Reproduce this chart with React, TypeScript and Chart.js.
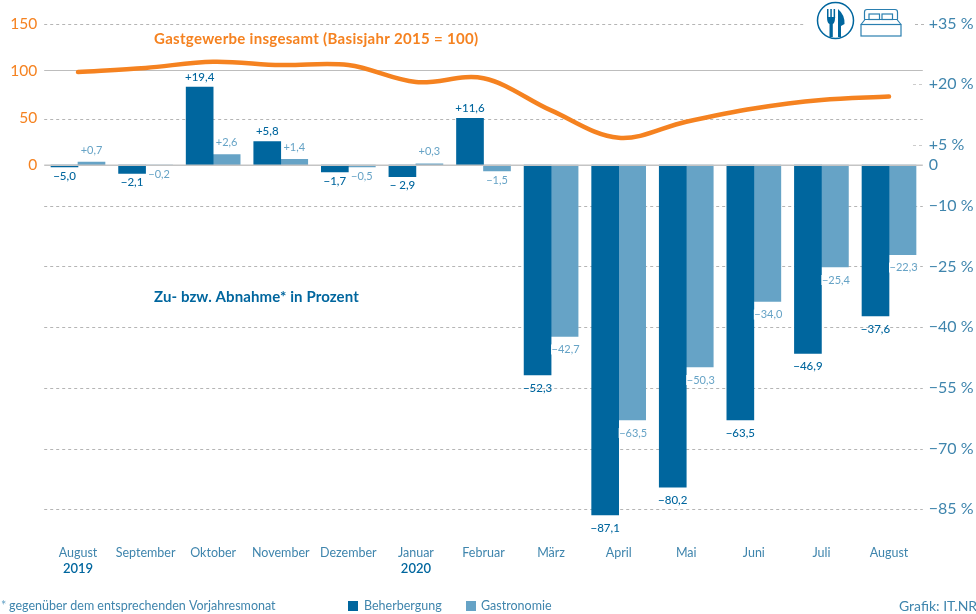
import React, { useEffect, useRef } from "react";
import { Chart, registerables } from "chart.js";

Chart.register(...registerables);

const months = ["August","September","Oktober","November","Dezember","Januar","Februar","März","April","Mai","Juni","Juli","August"];
const years: [number, string][] = [[0, "2019"], [5, "2020"]];
const lodging = [-0.5,-2.1,19.4,5.8,-1.7,-2.9,11.6,-52.3,-87.1,-80.2,-63.5,-46.9,-37.6];
const gastro = [0.7,-0.2,2.6,1.4,-0.5,0.3,-1.5,-42.7,-63.5,-50.3,-34.0,-25.4,-22.3];
const lodgingLabels = ["−5,0","−2,1","+19,4","+5,8","−1,7","− 2,9","+11,6","−52,3","−87,1","−80,2","−63,5","−46,9","−37,6"];
const gastroLabels = ["+0,7","−0,2","+2,6","+1,4","−0,5","+0,3","−1,5","−42,7","−63,5","−50,3","−34,0","−25,4","−22,3"];
const indexLine = [98.6,103,109.5,106,106,88,92,58,29,46,60,69,72.6];
const indexTicks = [0, 50, 100, 150];
const percentTicks = [35, 20, 5, 0, -10, -25, -40, -55, -70, -85];

const DARK = "#00669e";
const LIGHT = "#66a3c6";
const ORANGE = "#f58220";
const TEXT = "#3f85ad";
const FONT = "Lato, 'Open Sans', sans-serif";

const fmtPercent = (v: number) => (v === 0 ? "0" : (v > 0 ? "+" : "−") + Math.abs(v) + " %");

function drawIcons(ctx: CanvasRenderingContext2D) {
  ctx.save();
  ctx.strokeStyle = DARK;
  ctx.fillStyle = DARK;
  ctx.lineWidth = 1.5;
  ctx.beginPath();
  ctx.arc(835.5, 20.5, 18, 0, Math.PI * 2);
  ctx.stroke();
  // fork
  ctx.fillRect(827, 9, 1.5, 9);
  ctx.fillRect(830.3, 9, 1.5, 9);
  ctx.fillRect(833.6, 9, 1.5, 9);
  ctx.beginPath();
  ctx.moveTo(827, 17);
  ctx.lineTo(835.1, 17);
  ctx.quadraticCurveTo(835, 23, 832.8, 24);
  ctx.lineTo(832.8, 37);
  ctx.lineTo(829.5, 37);
  ctx.lineTo(829.5, 24);
  ctx.quadraticCurveTo(827, 23, 827, 17);
  ctx.fill();
  // knife
  ctx.beginPath();
  ctx.moveTo(838, 9);
  ctx.quadraticCurveTo(845, 15, 844.5, 24);
  ctx.lineTo(841, 26);
  ctx.lineTo(841, 37);
  ctx.lineTo(838, 37);
  ctx.closePath();
  ctx.fill();
  // bed
  ctx.strokeStyle = "#2a7fb0";
  ctx.lineWidth = 1.2;
  ctx.strokeRect(861, 24.5, 40, 11.5);
  ctx.beginPath();
  ctx.moveTo(861, 24.5);
  ctx.lineTo(865, 19.5);
  ctx.lineTo(897, 19.5);
  ctx.lineTo(901, 24.5);
  ctx.moveTo(864.5, 19.5);
  ctx.lineTo(864.5, 12);
  ctx.quadraticCurveTo(864.5, 9.5, 867, 9.5);
  ctx.lineTo(895, 9.5);
  ctx.quadraticCurveTo(897.5, 9.5, 897.5, 12);
  ctx.lineTo(897.5, 19.5);
  ctx.stroke();
  ctx.strokeRect(869, 14, 10.5, 5.5);
  ctx.strokeRect(882, 14, 10.5, 5.5);
  ctx.restore();
}

const overlayPlugin = {
  id: "overlay",
  beforeDatasetsDraw(chart: any) {
    const { ctx, scales } = chart;
    const { left, right } = chart.chartArea;
    const p = scales.percent;
    const ix = scales.index;
    ctx.save();
    ctx.lineWidth = 1;
    const hline = (y: number, x0: number, x1: number, dash: number[], color: string) => {
      ctx.beginPath();
      ctx.setLineDash(dash);
      ctx.strokeStyle = color;
      ctx.moveTo(x0, Math.round(y) + 0.5);
      ctx.lineTo(x1, Math.round(y) + 0.5);
      ctx.stroke();
    };
    const dash = [3, 3];
    const grey = "#b5b5b5";
    percentTicks.forEach((v) => {
      if (v === 0) return;
      if (v === 35) {
        hline(p.getPixelForValue(v), left, 805, dash, grey);
        hline(p.getPixelForValue(v), 915, right + 2, dash, grey);
      } else if (v === 20 || v === 5) {
        hline(p.getPixelForValue(v), 913, right + 2, dash, "#cccccc");
      } else {
        hline(p.getPixelForValue(v), left, right, dash, grey);
      }
    });
    hline(ix.getPixelForValue(50) + 1, left, right, dash, grey);
    hline(ix.getPixelForValue(100) - 1, left, right, [], "#bdbdbd");
    ctx.restore();
  },
  afterDatasetsDraw(chart: any) {
    const { ctx, scales } = chart;
    const { left, right } = chart.chartArea;
    const p = scales.percent;
    ctx.save();
    ctx.setLineDash([]);
    ctx.strokeStyle = "#c4c4c4";
    ctx.lineWidth = 1.5;
    ctx.beginPath();
    ctx.moveTo(left, p.getPixelForValue(0));
    ctx.lineTo(right, p.getPixelForValue(0));
    ctx.stroke();
    ctx.restore();
  },
  afterDraw(chart: any) {
    const { ctx, scales } = chart;
    const b = scales.bars;
    const x = scales.x;
    ctx.save();
    ctx.textAlign = "center";
    ctx.textBaseline = "middle";
    const sets: [string[], number[], string, number][] = [
      [lodgingLabels, lodging, DARK, 0],
      [gastroLabels, gastro, LIGHT, 1],
    ];
    sets.forEach(([labels, vals, color, dsIndex]) => {
      const meta = chart.getDatasetMeta(dsIndex);
      ctx.font = dsIndex === 0 ? `500 11.5px ${FONT}` : `400 11px ${FONT}`;
      labels.forEach((t, i) => {
        const v = vals[i];
        const base = b.getPixelForValue(v);
        let off: number;
        if (v >= 0) off = dsIndex === 0 ? -10 : -12;
        else off = v < -10 ? 13 : 9;
        const cx = meta.data[i].x;
        const cy = base + off;
        if (v < -10 && dsIndex === 1) {
          ctx.fillStyle = "#ffffff";
          ctx.fillRect(cx - 13.5, cy - 5, 27, 10);
        }
        ctx.fillStyle = color;
        ctx.fillText(t, cx + (dsIndex === 1 && v < -10 ? 1 : 0), cy);
      });
    });
    ctx.fillStyle = DARK;
    ctx.font = `600 13px ${FONT}`;
    years.forEach(([i, t]) => ctx.fillText(t, x.getPixelForValue(i), 569));

    ctx.textAlign = "left";
    ctx.fillStyle = ORANGE;
    ctx.font = `700 15px ${FONT}`;
    (ctx as any).letterSpacing = "0.3px";
    ctx.fillText("Gastgewerbe insgesamt (Basisjahr 2015 = 100)", 154, 39);
    (ctx as any).letterSpacing = "0.1px";
    ctx.fillStyle = DARK;
    ctx.fillText("Zu- bzw. Abnahme* in Prozent", 154, 297);
    (ctx as any).letterSpacing = "0px";

    ctx.font = `400 12.5px ${FONT}`;
    ctx.fillStyle = LIGHT;
    ctx.fillText("*", 1, 606);
    ctx.fillStyle = TEXT;
    ctx.fillText("gegenüber dem entsprechenden Vorjahresmonat", 9, 606);
    // legend
    const ds = chart.data.datasets;
    ctx.fillStyle = DARK;
    ctx.fillRect(348, 601, 10, 10);
    ctx.fillStyle = LIGHT;
    ctx.fillRect(466, 601, 10, 10);
    ctx.fillStyle = TEXT;
    ctx.fillText(ds[0].label, 364, 606);
    ctx.fillText(ds[1].label, 481, 606);
    ctx.font = `400 14px ${FONT}`;
    ctx.fillText("Grafik: IT.NRW", 899, 606);
    drawIcons(ctx);
    ctx.restore();
  },
};

export default function App() {
  const ref = useRef<HTMLCanvasElement>(null);
  useEffect(() => {
    document.body.style.margin = "0";
    const chart = new Chart(ref.current!, {
      type: "bar",
      data: {
        labels: months,
        datasets: [
          { label: "Beherbergung", data: lodging, backgroundColor: DARK, yAxisID: "bars", barThickness: 27, order: 2 },
          { label: "Gastronomie", data: gastro, backgroundColor: LIGHT, yAxisID: "bars", barThickness: 27, order: 2 },
          { type: "line", label: "Gastgewerbe insgesamt", data: indexLine, borderColor: ORANGE, borderWidth: 4.5, pointRadius: 0, tension: 0.35, borderCapStyle: "round", yAxisID: "index", order: 1 },
        ] as any,
      },
      plugins: [overlayPlugin],
      options: {
        responsive: false,
        animation: false,
        layout: { padding: { top: 23.5, bottom: 0, left: 0, right: 0 } },
        plugins: { legend: { display: false }, tooltip: { enabled: false } },
        scales: {
          x: {
            grid: { display: false },
            border: { display: false },
            ticks: { color: TEXT, font: { family: FONT, size: 12.5 }, padding: 8, maxRotation: 0, autoSkip: false },
            afterFit: (s: any) => { s.height = 84.5; },
          },
          index: {
            position: "left",
            min: -90 * 150 / 35,
            max: 150,
            grid: { display: false, drawTicks: false },
            border: { display: false },
            afterBuildTicks: (s: any) => { s.ticks = indexTicks.map((value) => ({ value })); },
            ticks: { color: ORANGE, font: { family: FONT, size: 15.5 }, padding: 7 },
            afterFit: (s: any) => { s.width = 44.2; },
          },
          percent: {
            position: "right",
            min: -90,
            max: 35,
            grid: { display: false, drawTicks: false },
            border: { display: false },
            afterBuildTicks: (s: any) => { s.ticks = percentTicks.map((value) => ({ value })); },
            ticks: { color: TEXT, font: { family: FONT, size: 16 }, padding: 6, callback: (v: any) => fmtPercent(Number(v)) },
            afterFit: (s: any) => { s.width = 976 - 922.8; },
          },
          // bars in the reference are drawn slightly less tall per unit than its tick grid
          bars: {
            display: false,
            position: "right",
            min: -90.76,
            max: 35.23,
          },
        },
      },
    });
    return () => chart.destroy();
  }, []);
  return <canvas ref={ref} width={976} height={614} style={{ display: "block" }} />;
}
